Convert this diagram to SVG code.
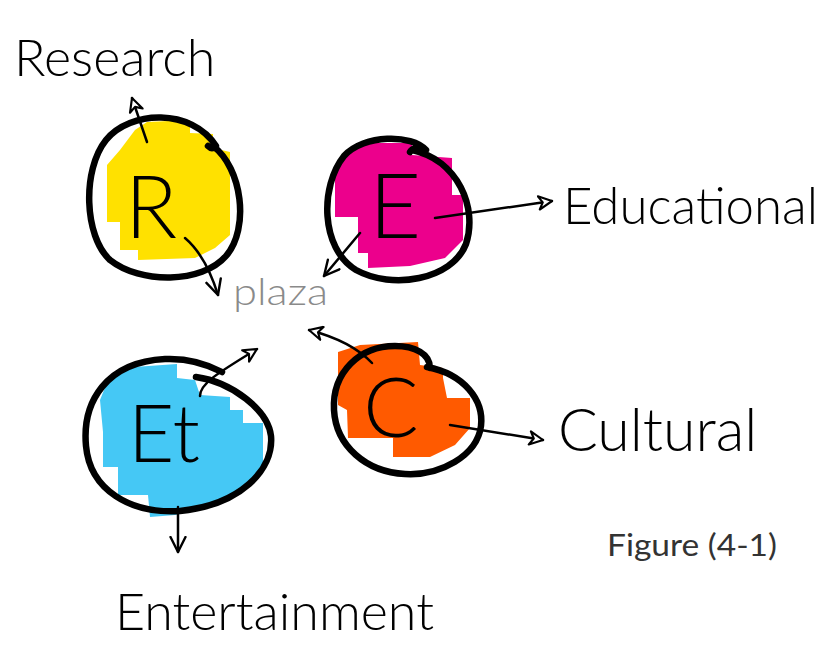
<svg xmlns="http://www.w3.org/2000/svg" width="840" height="649" viewBox="0 0 840 649">
<defs>
<style>
.hand{font-family:Lato,"Liberation Sans",sans-serif;font-weight:300;fill:#000}
.ring{fill:none;stroke:#000;stroke-width:6.5;stroke-linecap:round;stroke-linejoin:round}
.con{fill:none;stroke:#000;stroke-width:2.5;stroke-linecap:round;stroke-linejoin:round}
</style>
<marker id="tri" viewBox="0 0 12 12" refX="11" refY="6" markerWidth="16" markerHeight="16" markerUnits="userSpaceOnUse" orient="auto">
<path d="M11,6 L1,1 L4,6 L1,11 Z" fill="#fff" stroke="#000" stroke-width="1.6" stroke-linejoin="round"/>
</marker>
<marker id="vee" viewBox="0 0 12 12" refX="11" refY="6" markerWidth="18" markerHeight="18" markerUnits="userSpaceOnUse" orient="auto">
<path d="M1,1 L11,6 L1,11" fill="none" stroke="#000" stroke-width="1.6" stroke-linecap="round" stroke-linejoin="round"/>
</marker>
</defs>
<rect width="840" height="649" fill="#fff"/>

<g id="node-research">
<polygon points="147,122 190,120 190,133 213,134 213,148 230,152 230,235 215,248 195,258 138,260 138,250 120,250 120,222 107,222 107,165 120,150 135,130" fill="#FFE100"/>
<path class="ring" d="M213,146 C242,168 250,228 226,256 C202,284 140,284 110,260 C84,236 82,170 106,140 C130,110 192,108 216,146 Q212,150 208,146"/>
<text class="hand" x="151" y="238" font-size="86" text-anchor="middle">R</text>
</g>

<g id="node-educational">
<polygon points="340,160 360,143 412,143 412,155 452,158 452,195 463,195 463,240 445,258 410,266 368,268 368,253 358,253 358,217 335,217 335,175" fill="#EC008C"/>
<path class="ring" d="M412,150 C458,160 478,208 466,244 C452,280 392,290 356,270 C320,248 320,186 344,156 C364,134 412,134 426,150 C420,146 412,148 410,152"/>
<text class="hand" x="395" y="238" font-size="90" text-anchor="middle">E</text>
</g>

<g id="node-entertainment">
<polygon points="108,380 120,368 177,364 177,378 195,380 200,395 230,397 230,410 243,410 243,423 263,423 263,470 245,490 215,505 175,515 150,517 148,495 118,495 118,467 103,467 103,432 100,400" fill="#45C8F5"/>
<path class="ring" d="M196,377 C232,382 268,410 271,436 C274,470 240,505 180,511 C130,514 90,490 86,446 C82,402 106,362 165,359 C188,358 205,363 222,372"/>
<text class="hand" x="164" y="462" font-size="80" text-anchor="middle">Et</text>
</g>

<g id="node-cultural">
<polygon points="338,352 360,345 418,342 420,365 443,368 443,378 447,398 470,398 470,428 455,445 430,457 393,457 393,438 348,438 347,410 338,405" fill="#FF5A00"/>
<path class="ring" d="M427,367 C464,374 484,400 481,426 C477,456 440,476 405,474 C366,472 336,446 334,410 C332,372 360,346 395,346 C415,346 430,354 430,368"/>
<text class="hand" x="391" y="437" font-size="82" text-anchor="middle">C</text>
</g>

<g id="node-plaza">
<text x="233" y="305" font-family="Lato,'Liberation Sans',sans-serif" font-weight="300" font-size="38" fill="#8a8a8a" textLength="95" lengthAdjust="spacingAndGlyphs">plaza</text>
</g>

<g id="labels">
<text class="hand" x="14" y="76" font-size="52">Research</text>
<text class="hand" x="563" y="224" font-size="51">Educational</text>
<text class="hand" x="558" y="451" font-size="59">Cultural</text>
<text class="hand" x="115" y="630" font-size="52">Entertainment</text>
<text x="607" y="556" font-family="Lato,'Liberation Sans',sans-serif" font-size="31" fill="#333" textLength="170" lengthAdjust="spacingAndGlyphs">Figure (4-1)</text>
</g>

<g id="connectors">
<path class="con" d="M147,142 L132,98" marker-end="url(#tri)"/>
<path class="con" d="M185,238 Q206,256 218,295" marker-end="url(#vee)"/>
<path class="con" d="M360,233 L324,276" marker-end="url(#vee)"/>
<path class="con" d="M200,396 C200,384 216,374 257,349" marker-end="url(#tri)"/>
<path class="con" d="M178,507 L178,552" marker-end="url(#vee)"/>
<path class="con" d="M372,363 C356,346 332,336 309,330" marker-end="url(#tri)"/>
<path class="con" d="M435,218 L552,201" marker-end="url(#tri)"/>
<path class="con" d="M450,425 L543,440" marker-end="url(#tri)"/>
</g>
</svg>
